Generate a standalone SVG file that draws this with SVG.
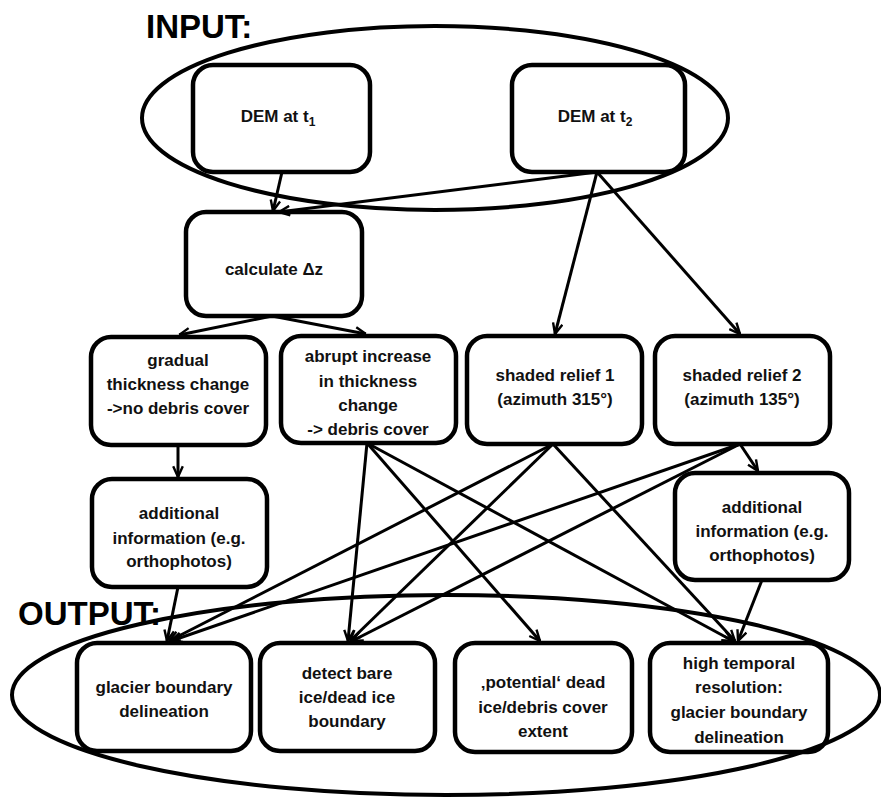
<svg xmlns="http://www.w3.org/2000/svg" width="881" height="798" viewBox="0 0 881 798">
<style>
.box{fill:#fff;stroke:#000;stroke-width:4.5}
.ell{fill:none;stroke:#000;stroke-width:4}
.t{font-family:"Liberation Sans",Arial,sans-serif;font-weight:bold;font-size:17px;fill:#111;text-anchor:middle}
.big{font-family:"Liberation Sans",Arial,sans-serif;font-weight:bold;font-size:33px;fill:#000}
.c{fill:none;stroke:#000;stroke-width:3;marker-end:url(#ah)}
</style>
<defs>
<marker id="ah" viewBox="0 0 10 10" refX="10" refY="5" markerWidth="12" markerHeight="12" markerUnits="userSpaceOnUse" orient="auto">
<path d="M1,1 L10,5 L1,9" fill="none" stroke="#000" stroke-width="2"/>
</marker>
</defs>
<rect width="881" height="798" fill="#fff"/>

<g id="n-dem1"><rect class="box" x="193" y="65" width="177" height="107" rx="20"/><text class="t" x="278" y="122">DEM at t<tspan font-size="12" dy="4">1</tspan></text></g>
<g id="n-dem2"><rect class="box" x="512" y="65" width="173" height="107" rx="20"/><text class="t" x="595" y="122">DEM at t<tspan font-size="12" dy="4">2</tspan></text></g>

<g id="input-group"><ellipse class="ell" cx="435" cy="118" rx="293" ry="92"/><text class="big" x="146" y="38">INPUT:</text></g>

<g id="n-calc"><rect class="box" x="186" y="212" width="176" height="104" rx="20"/><text class="t" x="274" y="275">calculate Δz</text></g>

<g id="n-gradual"><rect class="box" x="91" y="337" width="175" height="108" rx="20"/><text class="t" x="178" y="366">gradual</text><text class="t" x="178" y="390">thickness change</text><text class="t" x="178" y="414">-&gt;no debris cover</text></g>
<g id="n-abrupt"><rect class="box" x="281" y="336" width="175" height="107" rx="20"/><text class="t" x="368" y="362">abrupt increase</text><text class="t" x="368" y="387">in thickness</text><text class="t" x="368" y="411">change</text><text class="t" x="368" y="435">-&gt; debris cover</text></g>
<g id="n-shaded1"><rect class="box" x="467" y="336" width="175" height="108" rx="20"/><text class="t" x="555" y="381">shaded relief 1</text><text class="t" x="555" y="405">(azimuth 315°)</text></g>
<g id="n-shaded2"><rect class="box" x="655" y="336" width="175" height="108" rx="20"/><text class="t" x="742" y="381">shaded relief 2</text><text class="t" x="742" y="405">(azimuth 135°)</text></g>

<g id="n-add1"><rect class="box" x="92" y="479" width="175" height="108" rx="20"/><text class="t" x="179" y="519">additional</text><text class="t" x="179" y="544">information (e.g.</text><text class="t" x="179" y="567">orthophotos)</text></g>
<g id="n-add2"><rect class="box" x="675" y="473" width="174" height="107" rx="20"/><text class="t" x="762" y="513">additional</text><text class="t" x="762" y="537">information (e.g.</text><text class="t" x="762" y="561">orthophotos)</text></g>

<g id="n-glacier"><rect class="box" x="77" y="643" width="174" height="108" rx="20"/><text class="t" x="164" y="693">glacier boundary</text><text class="t" x="164" y="717">delineation</text></g>
<g id="n-detect"><rect class="box" x="260" y="643" width="175" height="108" rx="20"/><text class="t" x="347" y="679">detect bare</text><text class="t" x="347" y="703">ice/dead ice</text><text class="t" x="347" y="727">boundary</text></g>
<g id="n-potential"><rect class="box" x="455" y="643" width="177" height="109" rx="20"/><text class="t" x="543" y="688">‚potential‘ dead</text><text class="t" x="543" y="713">ice/debris cover</text><text class="t" x="543" y="737">extent</text></g>
<g id="n-high"><rect class="box" x="650" y="643" width="178" height="109" rx="20"/><text class="t" x="739" y="669">high temporal</text><text class="t" x="739" y="693">resolution:</text><text class="t" x="739" y="718">glacier boundary</text><text class="t" x="739" y="743">delineation</text></g>

<g id="output-group"><ellipse class="ell" cx="446" cy="695" rx="434" ry="100"/><text class="big" x="18" y="625">OUTPUT:</text></g>

<g id="connectors">
<line class="c" x1="282" y1="172" x2="273" y2="211"/>
<line class="c" x1="597" y1="172" x2="279" y2="212"/>
<line class="c" x1="597" y1="172" x2="555" y2="334"/>
<line class="c" x1="597" y1="172" x2="740" y2="334"/>
<line class="c" x1="272" y1="316" x2="179" y2="335"/>
<line class="c" x1="272" y1="316" x2="366" y2="334"/>
<line class="c" x1="178" y1="445" x2="178" y2="477"/>
<line class="c" x1="178" y1="587" x2="167" y2="641"/>
<line class="c" x1="367" y1="443" x2="348" y2="641"/>
<line class="c" x1="367" y1="443" x2="540" y2="641"/>
<line class="c" x1="367" y1="443" x2="733" y2="641"/>
<line class="c" x1="553" y1="444" x2="169" y2="641"/>
<line class="c" x1="553" y1="444" x2="350" y2="641"/>
<line class="c" x1="553" y1="444" x2="735" y2="641"/>
<line class="c" x1="740" y1="444" x2="171" y2="641"/>
<line class="c" x1="740" y1="444" x2="352" y2="641"/>
<line class="c" x1="740" y1="444" x2="758" y2="471"/>
<line class="c" x1="762" y1="580" x2="738" y2="641"/>
</g>
</svg>
